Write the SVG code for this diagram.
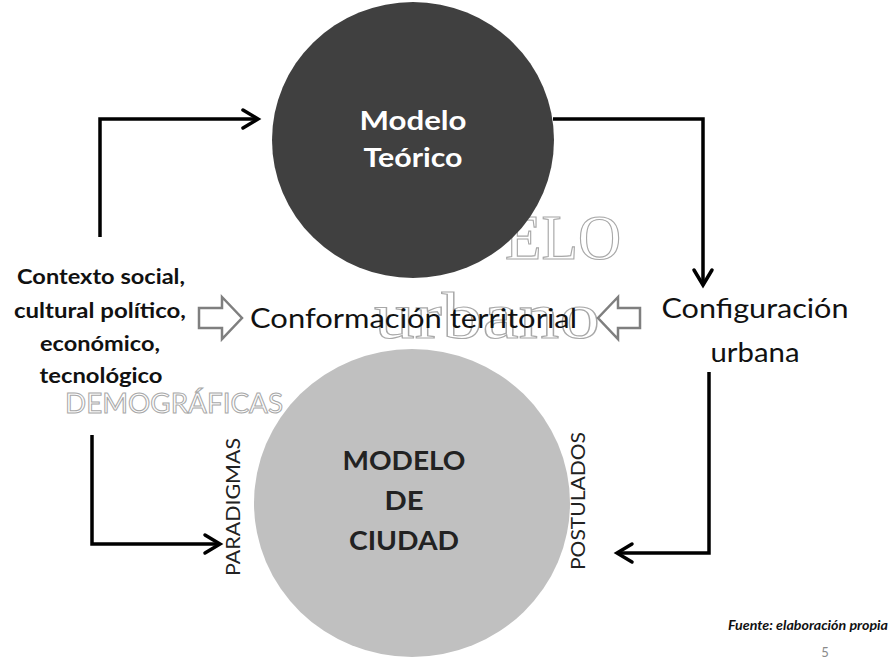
<svg xmlns="http://www.w3.org/2000/svg" width="891" height="659" viewBox="0 0 891 659">
<defs>
<style>
.lbl{font-family:Lato,"Open Sans","Liberation Sans",sans-serif;fill:#111}
.ctx{font-family:Lato,"Open Sans","Liberation Sans",sans-serif;font-weight:bold;font-size:20px;fill:#111;text-anchor:middle}
.wm{font-family:"Liberation Serif",serif;fill:none;stroke:#a8a8a8;stroke-width:1.2}
.conn{fill:none;stroke:#000;stroke-width:3.5;stroke-linejoin:miter}
.head{fill:none;stroke:#000;stroke-width:3.5;stroke-linecap:round;stroke-linejoin:miter}
.hollow{fill:#fff;stroke:#7f7f7f;stroke-width:2.5}
.big{font-family:Lato,"Open Sans","Liberation Sans",sans-serif;font-weight:bold;font-size:27px;text-anchor:middle}
.rot{font-family:Lato,"Open Sans","Liberation Sans",sans-serif;font-size:19px;fill:#222;text-anchor:middle}
</style>
</defs>
<rect width="891" height="659" fill="#fff"/>

<!-- watermark text (behind) -->
<text class="wm" x="505" y="259" font-size="64" textLength="116" lengthAdjust="spacingAndGlyphs">ELO</text>
<text class="wm" x="374" y="338" font-size="66" textLength="226" lengthAdjust="spacingAndGlyphs">urbano</text>

<g id="modelo-teorico">
<ellipse cx="413" cy="140" rx="141" ry="138" fill="#404040"/>
<text class="big" x="413" y="130" fill="#fff" textLength="107" lengthAdjust="spacingAndGlyphs">Modelo</text>
<text class="big" x="413" y="167" fill="#fff" textLength="99" lengthAdjust="spacingAndGlyphs">Teórico</text>
</g>

<g id="demograficas">
<text x="65" y="413" font-family="Lato, Open Sans, Liberation Sans, sans-serif" font-size="27" fill="none" stroke="#a8a8a8" stroke-width="1" textLength="218" lengthAdjust="spacingAndGlyphs">DEMOGRÁFICAS</text>
</g>

<g id="modelo-ciudad">
<ellipse cx="412" cy="503" rx="158" ry="154" fill="#c0c0c0"/>
<text class="big" x="404" y="470" fill="#222" textLength="123" lengthAdjust="spacingAndGlyphs">MODELO</text>
<text class="big" x="404" y="510" fill="#222" textLength="39" lengthAdjust="spacingAndGlyphs">DE</text>
<text class="big" x="404" y="550" fill="#222" textLength="110" lengthAdjust="spacingAndGlyphs">CIUDAD</text>
</g>

<g id="contexto">
<text class="ctx" x="101" y="284" textLength="168" lengthAdjust="spacingAndGlyphs">Contexto social,</text>
<text class="ctx" x="100" y="318" textLength="172" lengthAdjust="spacingAndGlyphs">cultural político,</text>
<text class="ctx" x="100" y="351" textLength="120" lengthAdjust="spacingAndGlyphs">económico,</text>
<text class="ctx" x="101" y="383" textLength="123" lengthAdjust="spacingAndGlyphs">tecnológico</text>
</g>

<g id="conformacion">
<text class="lbl" x="250" y="328" font-size="26" textLength="327" lengthAdjust="spacingAndGlyphs">Conformación territorial</text>
</g>

<g id="configuracion">
<text class="lbl" x="755" y="318" font-size="26" text-anchor="middle" textLength="187" lengthAdjust="spacingAndGlyphs">Configuración</text>
<text class="lbl" x="755" y="362" font-size="26" text-anchor="middle" textLength="89" lengthAdjust="spacingAndGlyphs">urbana</text>
</g>

<g id="paradigmas">
<text class="rot" transform="translate(240,507) rotate(-90)" textLength="138" lengthAdjust="spacingAndGlyphs">PARADIGMAS</text>
</g>
<g id="postulados">
<text class="rot" transform="translate(585,501) rotate(-90)" textLength="138" lengthAdjust="spacingAndGlyphs">POSTULADOS</text>
</g>

<g id="hollow-arrows">
<path class="hollow" d="M199,308 H222 V297 L242,318 L222,339 V328 H199 Z"/>
<path class="hollow" d="M640,308 H618 V297 L598,318 L618,339 V328 H640 Z"/>
</g>

<g id="connectors">
<path class="conn" d="M100,237 V119 H257"/>
<path class="head" d="M243,110 L258,119 L243,128"/>
<path class="conn" d="M553,119 H703 V284"/>
<path class="head" d="M694,270 L703,285 L712,270"/>
<path class="conn" d="M709,372 V553 H618"/>
<path class="head" d="M632,544 L617,553 L632,562"/>
<path class="conn" d="M92,435 V544 H219"/>
<path class="head" d="M205,535 L220,544 L205,553"/>
</g>

<g id="fuente">
<text x="888" y="630" font-family="Lato, Open Sans, Liberation Sans, sans-serif" font-size="13.5" font-weight="bold" font-style="italic" fill="#111" text-anchor="end" textLength="160" lengthAdjust="spacingAndGlyphs">Fuente: elaboración propia</text>
<text x="825" y="657" font-family="Lato, Open Sans, Liberation Sans, sans-serif" font-size="13" fill="#8a8a8a" text-anchor="middle">5</text>
</g>
</svg>
